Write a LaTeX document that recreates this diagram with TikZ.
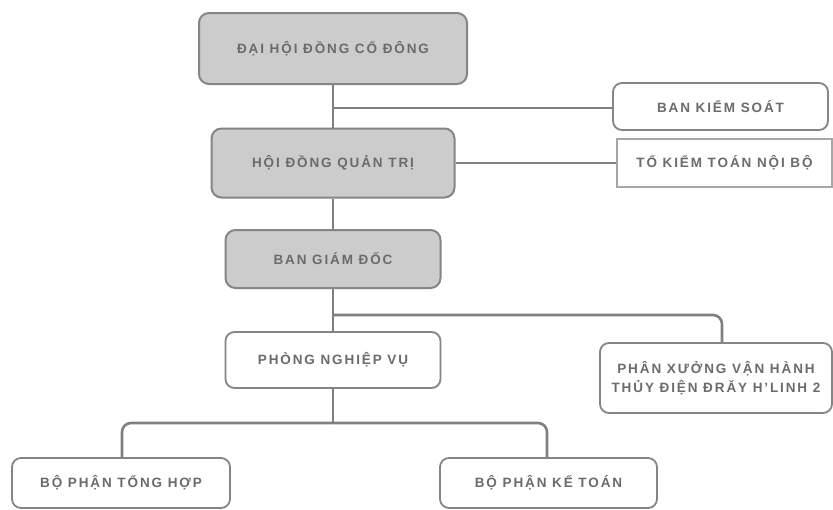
\documentclass[tikz,border=0pt]{standalone}
\usepackage{fontspec}
\setmainfont{Liberation Sans}[LetterSpace=14]
\begin{document}
\begin{tikzpicture}[x=1pt,y=-1pt,
  every node/.style={font=\fontsize{13.5}{19}\selectfont\bfseries, text=black!58, align=center, inner sep=0pt},
  graybox/.style={draw=black!48, line width=2pt, fill=black!20, rounded corners=10pt,
     minimum width=#1},
  whitebox/.style={draw=black!48, line width=1.8pt, fill=white, rounded corners=9pt,
     minimum width=#1},
  flatbox/.style={draw=black!35, line width=1.2pt, fill=white, minimum width=#1},
  conn/.style={draw=black!50, line width=2.6pt},
  thinconn/.style={draw=black!50, line width=1.2pt}]
\useasboundingbox (0,0) rectangle (833,509);
\clip (0,0) rectangle (833,509);
\fill[white] (0,0) rectangle (833,509);

\coordinate (j0) at (333,108);
\coordinate (j1) at (333,315);
\coordinate (j2) at (722,315);
\coordinate (j3) at (333,423);
\coordinate (j4) at (122,423);
\coordinate (j5) at (547,423);

\node[graybox=268, minimum height=71] (dhd) at (333,48.5) {ĐẠI HỘI ĐỒNG CỔ ĐÔNG};
\node[graybox=243, minimum height=69] (hdqt) at (333,163) {HỘI ĐỒNG QUẢN TRỊ};
\node[graybox=215, minimum height=58] (bgd) at (333,259) {BAN GIÁM ĐỐC};
\node[whitebox=215, minimum height=56] (pnv) at (333,360) {PHÒNG NGHIỆP VỤ};
\node[whitebox=215, minimum height=47] (bks) at (720.5,106.5) {BAN KIỂM SOÁT};
\node[flatbox=215, minimum height=48] (tkt) at (724.5,163) {TỔ KIỂM TOÁN NỘI BỘ};
\node[whitebox=232, minimum height=70] (px) at (716,378) {PHÂN XƯỞNG VẬN HÀNH\\THỦY ĐIỆN ĐRĂY H'LINH 2};
\node[whitebox=218, minimum height=50] (bpth) at (121,483) {BỘ PHẬN TỔNG HỢP};
\node[whitebox=217, minimum height=50] (bpkt) at (548.5,483) {BỘ PHẬN KẾ TOÁN};

\draw[conn] (dhd.south) -- (hdqt.north);
\draw[conn] (j0) -- (bks.west |- j0);
\draw[thinconn] (hdqt.east) -- (tkt.west);
\draw[conn] (hdqt.south) -- (bgd.north);
\draw[conn] (bgd.south) -- (pnv.north);
\draw[conn, rounded corners=9pt] (j1) -- (j2) -- (px.north -| j2);
\draw[conn] (pnv.south) -- (j3);
\draw[conn, rounded corners=9pt] (j3) -- (j4) -- (bpth.north -| j4);
\draw[conn, rounded corners=9pt] (j3) -- (j5) -- (bpkt.north -| j5);
\end{tikzpicture}
\end{document}
